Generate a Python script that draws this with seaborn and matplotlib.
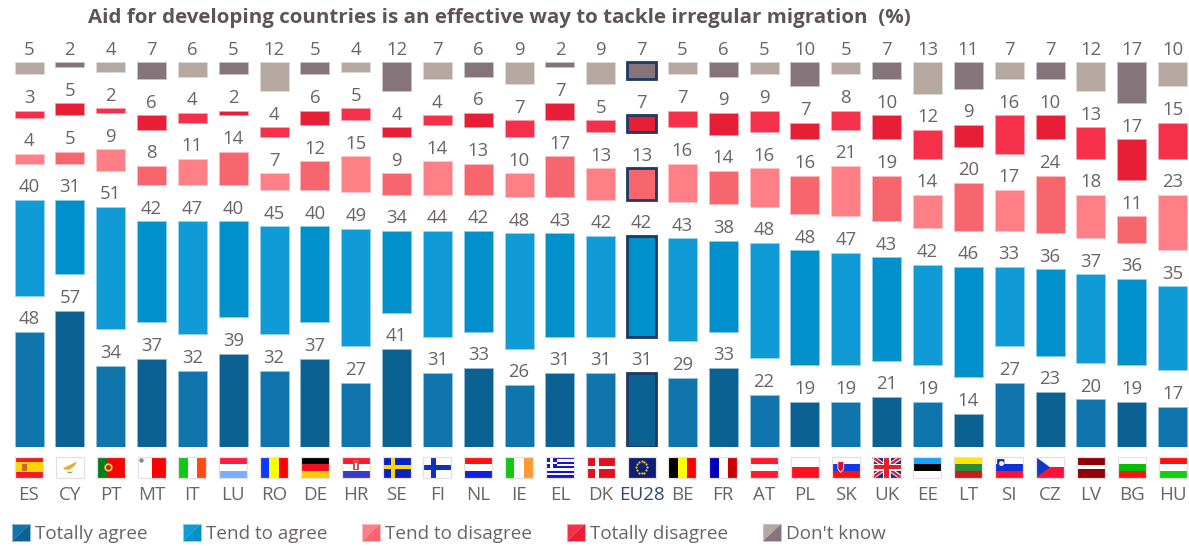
import numpy as np
import pandas as pd
import seaborn as sns
import matplotlib
matplotlib.use("Agg")
import matplotlib.pyplot as plt
from matplotlib.patches import Polygon, Rectangle
from matplotlib.legend_handler import HandlerBase

countries = ["ES","CY","PT","MT","IT","LU","RO","DE","HR","SE","FI","NL","IE","EL","DK",
             "EU28","BE","FR","AT","PL","SK","UK","EE","LT","SI","CZ","LV","BG","HU"]
totally_agree    = [48,57,34,37,32,39,32,37,27,41,31,33,26,31,31,31,29,33,22,19,19,21,19,14,27,23,20,19,17]
tend_agree       = [40,31,51,42,47,40,45,40,49,34,44,42,48,43,42,42,43,38,48,48,47,43,42,46,33,36,37,36,35]
tend_disagree    = [4,5,9,8,11,14,7,12,15,9,14,13,10,17,13,13,16,14,16,16,21,19,14,20,17,24,18,11,23]
totally_disagree = [3,5,2,6,4,2,4,6,5,4,4,6,7,7,5,7,7,9,9,7,8,10,12,9,16,10,13,17,15]
dont_know        = [5,2,4,7,6,5,12,5,4,12,7,6,9,2,9,7,5,6,5,10,5,7,13,11,7,7,12,17,10]

series_names = ["Totally agree","Tend to agree","Tend to disagree","Totally disagree","Don't know"]
series_values = [totally_agree,tend_agree,tend_disagree,totally_disagree,dont_know]
light_colors = ["#1075ad","#109ad6","#ff7f87","#f5304a","#b5a8a0"]
dark_colors  = ["#0b6192","#0090cc","#f7666f","#e61e36","#85757a"]

title = "Aid for developing countries is an effective way to tackle irregular migration  (%)"

flag_stripes = {
 "ES":("h",["#f01c24","#ffd400","#ffd400","#f01c24"]),"CY":("h",["#ffffff"]),
 "PT":("v",["#0a7a1e","#0a7a1e","#ff0000","#ff0000","#ff0000"]),"MT":("v",["#ffffff","#ff0000"]),
 "IT":("v",["#10c810","#ffffff","#ff4a10"]),"LU":("h",["#ff1a40","#ffffff","#7aaeff"]),
 "RO":("v",["#0a3cff","#ffff00","#ff0000"]),"DE":("h",["#000000","#f01020","#ffcc00"]),
 "HR":("h",["#ff1a30","#ffffff","#3a3cc8"]),"SE":("h",["#0a20c0"]),"FI":("h",["#ffffff"]),
 "NL":("h",["#ff1010","#ffffff","#1020e8"]),"IE":("v",["#10c810","#ffffff","#ff9a30"]),
 "EL":("h",["#1414d8","#ffffff","#1414d8","#ffffff","#1414d8","#ffffff","#1414d8","#ffffff","#1414d8"]),
 "DK":("h",["#e01020"]),"EU28":("h",["#0f1f78"]),"BE":("v",["#000000","#ffff00","#ff0000"]),
 "FR":("v",["#0000c0","#ffffff","#cc0000"]),"AT":("h",["#ff1a30","#ffffff","#ff1a30"]),
 "PL":("h",["#ffffff","#ff1020"]),"SK":("h",["#ffffff","#1438e8","#ff1010"]),
 "UK":("h",["#1a2a90"]),"EE":("h",["#18a0ff","#000000","#ffffff"]),
 "LT":("h",["#ffe800","#2e8b3a","#d01818"]),"SI":("h",["#ffffff","#1030d8","#ff1030"]),
 "CZ":("h",["#ffffff","#ff1038"]),"LV":("h",["#8f0008","#8f0008","#ffffff","#8f0008","#8f0008"]),
 "BG":("h",["#ffffff","#00c000","#ff1010"]),"HU":("h",["#ff1010","#ffffff","#10d010"]),
}

W, H = 1189, 546
DPI = 100
BASE_PX = 447.3          # baseline of the bars
PX_PER_UNIT = 2.4
X0_PX, STEP_PX = 29.0, 40.84
GAP_UNITS = 15.1
BAR_PX = 29
TEXT = "#6d6266"
FONT = ["Open Sans", "DejaVu Sans"]
def pt(px): return px * 72 / DPI

sns.set_theme(style="white")
plt.rcParams["font.family"] = FONT

fig = plt.figure(figsize=(W/DPI, H/DPI), dpi=DPI, facecolor="white")
ax = fig.add_axes([0, (H-BASE_PX)/H, 1, BASE_PX/H])

def blend(c, a=0.55):
    r = np.array(matplotlib.colors.to_rgb(c))
    return tuple(r*(1-a)+a)

eu_i = countries.index("EU28")
bottoms = np.zeros(len(countries))
for k, (name, vals) in enumerate(zip(series_names, series_values)):
    df = pd.DataFrame({"country": countries, "value": vals})
    sns.barplot(data=df, x="country", y="value", bottom=bottoms, ax=ax, color=light_colors[k],
                saturation=1, width=BAR_PX/STEP_PX, errorbar=None, zorder=2)
    cont = ax.containers[-1]
    for i, p in enumerate(cont.patches):
        col = light_colors[k] if i % 2 == 0 else dark_colors[k]
        p.set_facecolor(col)
        if i == eu_i:
            p.set_edgecolor("#1f3864"); p.set_linewidth(pt(2.8)); p.set_zorder(3)
        else:
            p.set_edgecolor(blend(col)); p.set_linewidth(pt(0.9))
    ax.bar_label(cont, labels=[str(v) for v in vals], padding=2.6, color=TEXT, fontsize=pt(18.5))
    bottoms = bottoms + np.array(vals) + GAP_UNITS

ax.set_xlim(-X0_PX/STEP_PX, (W-X0_PX)/STEP_PX)
ax.set_ylim(0, BASE_PX/PX_PER_UNIT)
ax.set_xlabel(""); ax.set_ylabel("")
ax.yaxis.set_visible(False)
sns.despine(ax=ax, left=True, bottom=True)
ax.tick_params(axis="x", length=0, pad=pt(38.5), labelsize=pt(18.8), labelcolor=TEXT)
ax.set_xticks(range(len(countries)), countries)
ax.get_xticklabels()[eu_i].set_color("#2f4a70")
ax.patch.set_alpha(0)

# flags
FW, FH = 28/STEP_PX, 20.5/PX_PER_UNIT
FTOP = -(457-BASE_PX)/PX_PER_UNIT
def fx(i, u): return i - FW/2 + u*FW
def fy(v): return FTOP - v*FH
def rect(i, u0, v0, u1, v1, c, z=4):
    ax.add_patch(Rectangle((fx(i,u0), fy(v1)), (u1-u0)*FW, (v1-v0)*FH, fc=c, ec="none", lw=0, clip_on=False, zorder=z))
def poly(i, pts, c, z=5):
    ax.add_patch(Polygon([(fx(i,u), fy(v)) for u,v in pts], closed=True, fc=c, ec="none", clip_on=False, zorder=z))
def dot(i, u, v, s, c, z=6):
    ax.plot([fx(i,u)], [fy(v)], "o", ms=s, color=c, mew=0, clip_on=False, zorder=z)

for i, code in enumerate(countries):
    ori, cols = flag_stripes[code]
    n = len(cols)
    for j, c in enumerate(cols):
        if ori == "h": rect(i, 0, j/n, 1, (j+1)/n, c)
        else: rect(i, j/n, 0, (j+1)/n, 1, c)
    ax.add_patch(Rectangle((fx(i,0), fy(1)), FW, FH, fc="none", ec="#e6dfdd", lw=pt(1.2), clip_on=False, zorder=8))
    if code == "ES":
        rect(i, .25, .35, .42, .68, "#c8682a", 5)
    elif code == "CY":
        poly(i, [(.25,.55),(.45,.42),(.75,.22),(.68,.42),(.5,.62),(.32,.62)], "#f0a828")
        poly(i, [(.35,.72),(.5,.8),(.65,.72),(.5,.72)], "#70b060")
    elif code == "PT":
        dot(i, .4, .5, 6, "#f0d040"); dot(i, .4, .5, 3.5, "#c02020", 7)
    elif code == "MT":
        dot(i, .14, .17, 3.2, "#888888")
    elif code == "HR":
        rect(i, .4, .15, .6, .65, "#d85050", 5)
        rect(i, .46, .3, .54, .6, "#ffffff", 6)
    elif code == "SE":
        rect(i, .3, 0, .45, 1, "#ffd800", 5); rect(i, 0, .4, 1, .6, "#ffd800", 5)
    elif code == "FI":
        rect(i, .28, 0, .46, 1, "#1030c0", 5); rect(i, 0, .38, 1, .62, "#1030c0", 5)
    elif code == "EL":
        rect(i, 0, 0, .4, 5/9, "#1414d8", 5)
        rect(i, .16, 0, .24, 5/9, "#ffffff", 6); rect(i, 0, 2/9, .4, 3/9, "#ffffff", 6)
    elif code == "DK":
        rect(i, .3, 0, .44, 1, "#ffffff", 5); rect(i, 0, .42, 1, .58, "#ffffff", 5)
    elif code == "EU28":
        for a in np.arange(0, 2*np.pi, np.pi/6):
            dot(i, .5+.2*np.cos(a), .5+.3*np.sin(a), 1.6, "#e8c820")
    elif code == "SK":
        poly(i, [(.2,.2),(.44,.2),(.44,.6),(.32,.78),(.2,.6)], "#f8f8f8")
        poly(i, [(.23,.24),(.41,.24),(.41,.58),(.32,.72),(.23,.58)], "#e01020", 6)
    elif code == "UK":
        poly(i, [(0,0),(.12,0),(1,.85),(1,1),(.88,1),(0,.15)], "#ffffff")
        poly(i, [(1,0),(.88,0),(0,.85),(0,1),(.12,1),(1,.15)], "#ffffff")
        poly(i, [(0,0),(.07,0),(1,.92),(1,1),(.93,1),(0,.08)], "#e02030", 6)
        poly(i, [(1,0),(.93,0),(0,.92),(0,1),(.07,1),(1,.08)], "#e02030", 6)
        rect(i, .36, 0, .64, 1, "#ffffff", 7); rect(i, 0, .32, 1, .68, "#ffffff", 7)
        rect(i, .42, 0, .58, 1, "#e02030", 7.5); rect(i, 0, .4, 1, .6, "#e02030", 7.5)
    elif code == "SI":
        poly(i, [(.07,.1),(.33,.1),(.33,.45),(.2,.58),(.07,.45)], "#1030d8")
        dot(i, .2, .28, 3.5, "#ffffff")
    elif code == "CZ":
        poly(i, [(0,0),(.5,.5),(0,1)], "#0a3cc8")

# legend with diagonally split swatches
class DiagHandler(HandlerBase):
    def __init__(self, a, b):
        super().__init__(); self.a, self.b = a, b
    def create_artists(self, legend, orig, xd, yd, w, h, fs, trans):
        x0, y0 = -xd, -yd
        t1 = Polygon([(x0,y0),(x0,y0+h),(x0+w,y0+h)], closed=True, fc=self.a, ec="none", transform=trans)
        t2 = Polygon([(x0,y0),(x0+w,y0),(x0+w,y0+h)], closed=True, fc=self.b, ec="none", transform=trans)
        t3 = Rectangle((x0,y0), w, h, fc="none", ec=blend(self.b), lw=pt(1), transform=trans)
        return [t1, t2, t3]

handles = [Rectangle((0,0),1,1,label=n) for n in series_names]
hmap = {h: DiagHandler(light_colors[k], dark_colors[k]) for k, h in enumerate(handles)}
LEG_PX = 18.9
fs = pt(LEG_PX)
leg = fig.legend(handles=handles, handler_map=hmap, ncols=5, frameon=False, fontsize=fs,
                 loc="center left", bbox_to_anchor=(12/W, 1-533.5/H), bbox_transform=fig.transFigure,
                 borderaxespad=0, borderpad=0, handlelength=18/LEG_PX, handleheight=18/LEG_PX,
                 handletextpad=5/LEG_PX, columnspacing=35/LEG_PX, labelcolor=TEXT)

fig.text(88/W, 1-18.5/H, title, fontsize=pt(20.5), fontweight="bold", color="#5f5358", va="center", ha="left")

fig.savefig("out.png", dpi=DPI)
